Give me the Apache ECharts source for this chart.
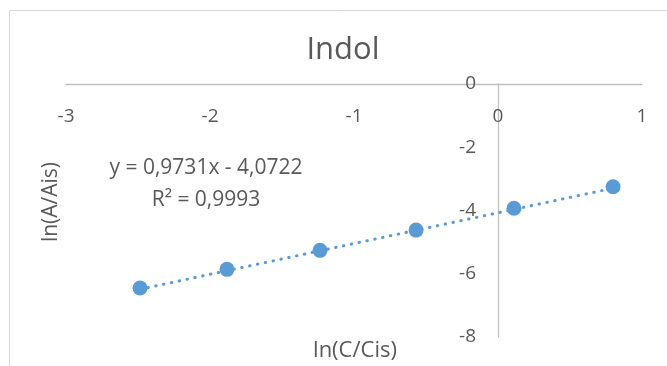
<!DOCTYPE html>
<html>
<head>
<meta charset="utf-8">
<script src="https://cdn.jsdelivr.net/npm/echarts@6/dist/echarts.min.js"></script>
<style>html,body{margin:0;padding:0;background:#fff}#c{width:667px;height:366px}</style>
</head>
<body>
<div id="c"></div>
<script>
// Data
const xValues = [-2.486, -1.882, -1.236, -0.569, 0.111, 0.799];
const yValues = [-6.45, -5.86, -5.26, -4.62, -3.93, -3.25];
const xTicks = [-3, -2, -1, 0, 1];
const yTicks = [0, -2, -4, -6, -8];
// Trendline coefficients shown on the chart
const slope = 0.9731;
const intercept = -4.0722;
const equationLines = ['y = 0,9731x - 4,0722', 'R² = 0,9993'];

const points = xValues.map((x, i) => [x, yValues[i]]);
const xMin = Math.min(...xValues), xMax = Math.max(...xValues);
const trend = [[xMin, slope * xMin + intercept], [xMax, slope * xMax + intercept]];

const FONT = 'Open Sans';
const TXT = '#595959';
const GL = 66, GR = 25, GW = 667 - GL - GR;
// y axis sits where x = 0
const yAxisOffset = -GW * (0 - (-3)) / (1 - (-3));
const chart = echarts.init(document.getElementById('c'));
chart.setOption({
  animation: false,
  grid: { left: GL, right: GR, top: 84, bottom: 29 },
  xAxis: {
    type: 'value', min: -3, max: 1, interval: 1, position: 'top',
    axisLine: { onZero: false, lineStyle: { color: '#bfbfbf', width: 1.3 } },
    axisTick: { show: false }, splitLine: { show: false },
    axisLabel: { inside: true, margin: 23, fontFamily: FONT, fontSize: 19, color: TXT,
      customValues: xTicks }
  },
  yAxis: {
    type: 'value', min: -8, max: 0, interval: 2, position: 'left', offset: yAxisOffset,
    axisLine: { show: true, onZero: false, lineStyle: { color: '#bfbfbf', width: 1.3 } },
    axisTick: { show: false }, splitLine: { show: false },
    axisLabel: { margin: 22, fontFamily: FONT, fontSize: 19, color: TXT,
      customValues: yTicks }
  },
  graphic: [
    { type: 'rect', shape: { x: 9.5, y: 10.5, width: 700, height: 400 },
      style: { fill: 'none', stroke: '#d9d9d9', lineWidth: 1 }, z: -1 },
    { type: 'text', x: 343, y: 50,
      style: { text: 'Indol', font: '31px "Open Sans"', fill: TXT, align: 'center', verticalAlign: 'middle' } },
    { type: 'text', x: 206, y: 168,
      style: { text: equationLines[0], font: '21px "Open Sans"', fill: TXT, align: 'center', verticalAlign: 'middle' } },
    { type: 'text', x: 206, y: 200,
      style: { text: equationLines[1], font: '21px "Open Sans"', fill: TXT, align: 'center', verticalAlign: 'middle' } },
    { type: 'text', x: 355, y: 351,
      style: { text: 'ln(C/Cis)', font: '22px "Open Sans"', fill: TXT, align: 'center', verticalAlign: 'middle' } },
    { type: 'text', x: 51, y: 202, rotation: Math.PI / 2,
      style: { text: 'ln(A/Ais)', font: '21px "Open Sans"', fill: TXT, align: 'center', verticalAlign: 'middle' } }
  ],
  series: [
    { type: 'line', data: trend, symbol: 'none', silent: true,
      lineStyle: { color: '#5b9bd5', width: 3, type: [0.5, 7.5], cap: 'round' }, z: 1 },
    { type: 'scatter', data: points, symbolSize: 15,
      itemStyle: { color: '#5b9bd5', opacity: 1 }, z: 2 }
  ]
});
</script>
</body>
</html>
